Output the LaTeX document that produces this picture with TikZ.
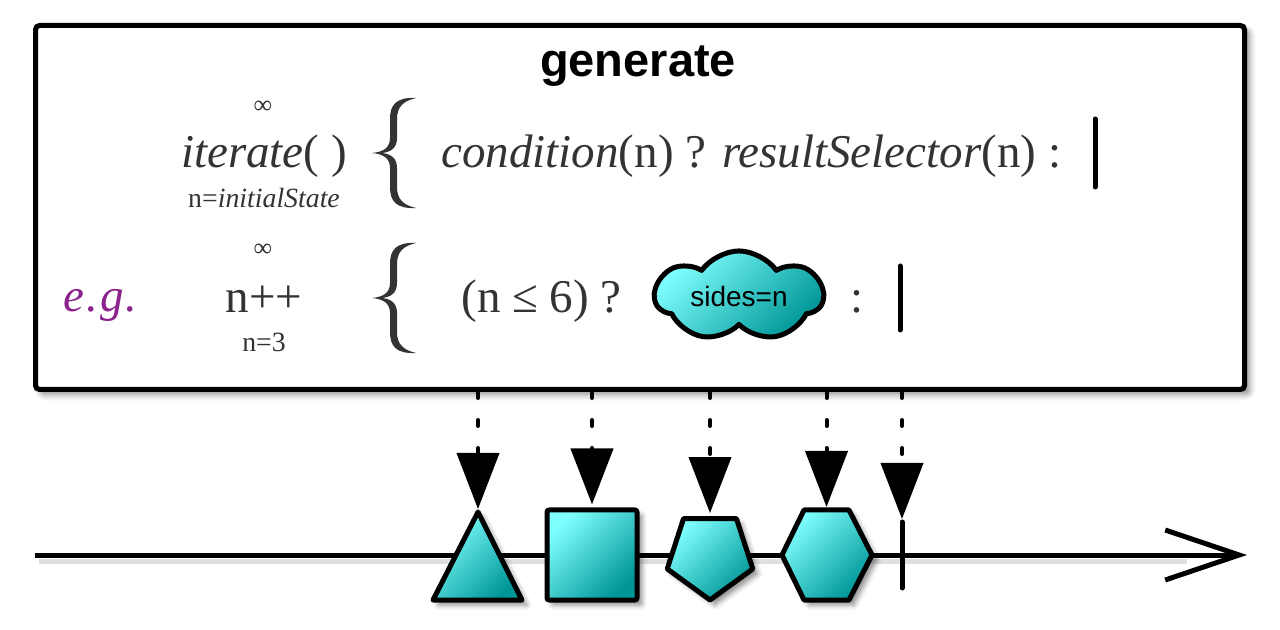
\documentclass[tikz,border=0pt]{standalone}
\usepackage{fontspec}
\setmainfont{Liberation Serif}
\setsansfont{Liberation Sans}
\usetikzlibrary{arrows.meta,shapes.geometric,shapes.symbols,shadows.blur}
\definecolor{ink}{HTML}{333333}
\definecolor{egpurple}{RGB}{140,35,140}
\definecolor{deepcyan}{RGB}{0,150,150}
\tikzset{
  gemfill/.style={draw=black,line width=2.5pt,line join=round,shade,
    top color=white!50!cyan,middle color=cyan,bottom color=deepcyan,shading angle=45},
  glyph/.style={gemfill,
    blur shadow={shadow xshift=2.5pt,shadow yshift=-2.5pt,shadow blur radius=2.5pt,shadow opacity=45}},
  dots/.style={draw=black,line width=2pt,line cap=round,dash pattern=on 3pt off 11pt},
  droptip/.style={draw=black,fill=black,line width=2pt,-{Triangle[length=28pt,width=21pt,fill=black]}},
  big/.style={text=ink,font=\fontsize{23.5}{28}\selectfont,inner sep=0pt},
  small/.style={text=ink,font=\fontsize{13.9}{16}\selectfont,inner sep=0pt},
  endbar/.style={draw=black,line width=2.5pt,line cap=round},
  curly/.pic={
    \fill[ink] (22,-55) .. controls (2,-56) and (-4,-48) .. (-4,-34) -- (-4,-15)
      .. controls (-4,-5) and (-11,-1) .. (-22,0)
      .. controls (-11,1) and (-4,5) .. (-4,15) -- (-4,34)
      .. controls (-4,48) and (2,56) .. (22,55)
      .. controls (9,52) and (3,46) .. (3,34) -- (3,15)
      .. controls (3,5) and (-3,1) .. (-12,0)
      .. controls (-3,-1) and (3,-5) .. (3,-15) -- (3,-34)
      .. controls (3,-46) and (9,-52) .. (22,-55) -- cycle;
  }
}
\begin{document}
\begin{tikzpicture}[x=0.5pt,y=-0.5pt]
  \useasboundingbox (0,0) rectangle (1280,630);
  % operator panel
  \node[draw,line width=2.5pt,rounded corners=2pt,fill=white,
    minimum width=604.5pt,minimum height=182pt,
    blur shadow={shadow xshift=2.5pt,shadow yshift=-2.5pt,shadow blur radius=3pt,shadow opacity=45}]
    (box) at (640,207.5) {};
  \node[anchor=base,font=\sffamily\bfseries\fontsize{23.5}{28}\selectfont] (gen) at (638,77) {generate};
  % general form
  \node[small,font=\fontsize{13}{14}\selectfont] (inf1) at (263,107) {∞};
  \node[big,anchor=base] (iter) at (264,168) {\textit{iterate}( )};
  \node[small,anchor=base] (init) at (264,208) {n=\textit{initialState}};
  \pic (br1) at (394,153) {curly};
  \node[big,anchor=base west] (cond) at (441,168) {\textit{condition}(n) ? \textit{resultSelector}(n)~:};
  \draw[endbar] (1095,119) -- (1095,187);
  % example
  \node[text=egpurple,font=\fontsize{23.5}{28}\selectfont\itshape,anchor=base west,inner sep=0pt] (eg) at (63,312) {e\kern1pt.\kern1pt g\kern1pt.};
  \node[small,font=\fontsize{13}{14}\selectfont] (inf2) at (263,250) {∞};
  \node[big,anchor=base] (incr) at (264,313) {n++};
  \node[small,anchor=base] (start) at (264,352) {n=3};
  \pic (br2) at (394,298) {curly};
  \node[big,anchor=base west] (test) at (461,313) {(n ≤ 6) ?};
  \node[cloud,cloud puffs=7,cloud puff arc=110,aspect=2.1,gemfill,minimum width=84pt,minimum height=42pt,
    inner sep=0pt,font=\sffamily\fontsize{14}{16}\selectfont] (sel) at (739,296) {sides=n};
  \node[big,anchor=base] (colon) at (857,313) {:};
  \draw[endbar] (900,266) -- (900,330);
  % timeline
  \coordinate (t0) at (35,555);
  \coordinate (t1) at (1247,555);
  \draw[draw=black!35,line width=2.5pt,opacity=0.35] ([shift={(2pt,-3pt)}]t0) -- ([shift={(-30pt,-3pt)}]t1);
  \draw[draw=black,line width=2.5pt,-{Straight Barb[length=37pt,width=25pt]}] (t0) -- (t1);
  % emitted items
  \draw[glyph] (433,600) -- (478,512) coordinate (tri) -- (522,600) -- cycle;
  \node[rectangle,glyph,rounded corners=1pt,minimum size=45pt,inner sep=0pt] (sq) at (592,555) {};
  \node[regular polygon,regular polygon sides=5,shape border rotate=180,glyph,
    minimum size=45pt,inner sep=0pt] (pent) at (710,555) {};
  \draw[glyph] (782,555) -- (804,510) -- coordinate (hex) (849,510) -- (872,555)
    -- (849,600) -- (804,600) -- cycle;
  \draw[endbar] (902,522) coordinate (done) -- (902,588);
  % arrows from panel
  \foreach \p in {tri,sq.north,pent.north,hex,done}{
    \draw[dots] (\p |- box.south) -- ([yshift=29pt]\p);
    \draw[droptip] ([yshift=29pt]\p) -- ([yshift=1.5pt]\p);
  }
\end{tikzpicture}
\end{document}
